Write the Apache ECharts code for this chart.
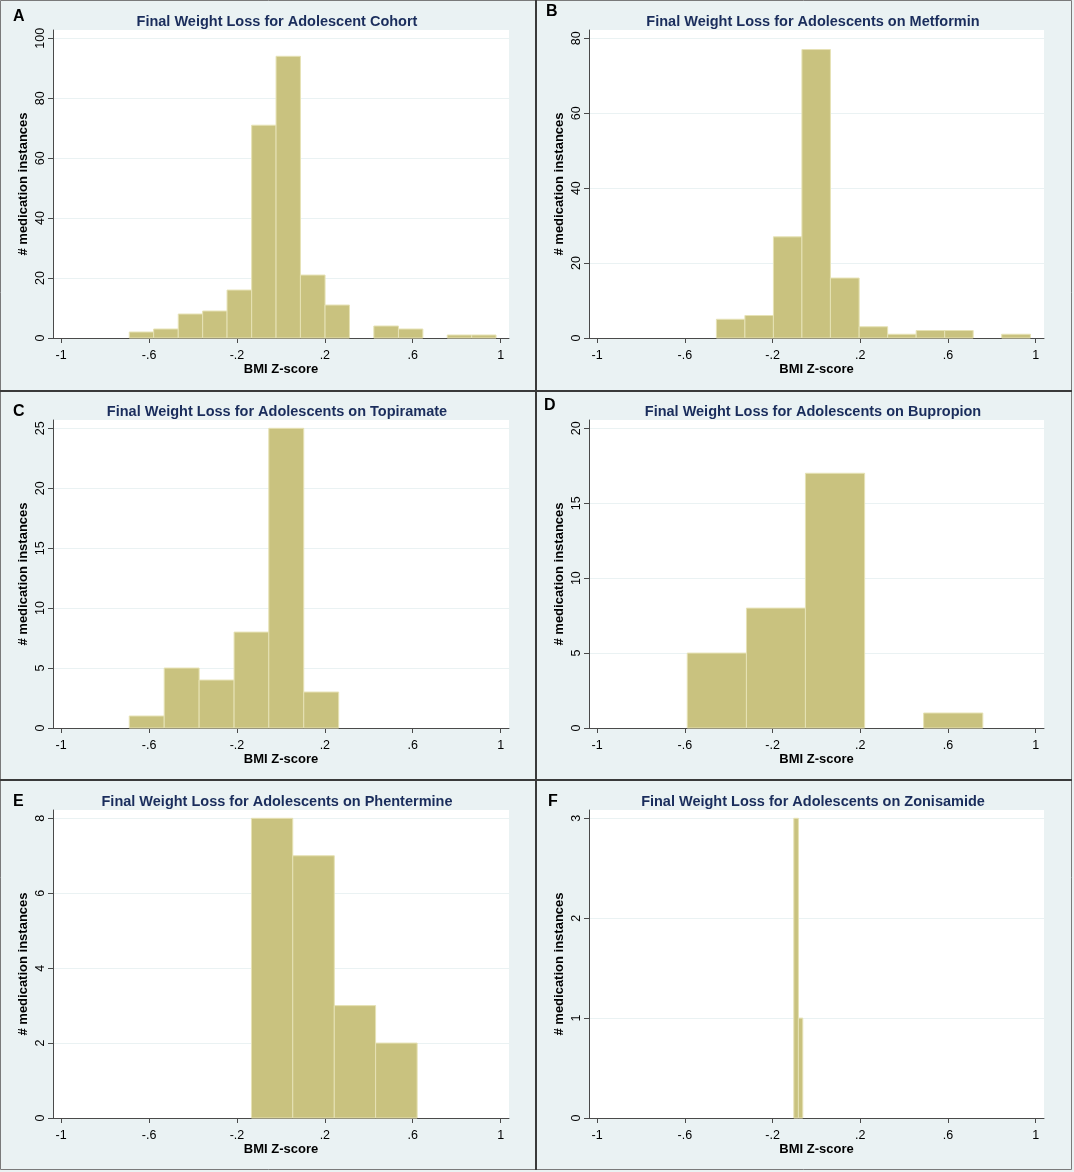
<!DOCTYPE html>
<html>
<head>
<meta charset="utf-8">
<title>Final Weight Loss histograms</title>
<script src="https://cdn.jsdelivr.net/npm/echarts@6.0.0/dist/echarts.min.js"></script>
<style>
  html, body { margin: 0; padding: 0; background: #eaf2f3; }
  #chart { width: 1074px; height: 1172px; }
</style>
</head>
<body>
<div id="chart"></div>
<script>
// tick labels shared by every x axis
var ticksX = [-1, -0.6, -0.2, 0.2, 0.6, 1];

// A - whole cohort
var edgesA = [-0.690, -0.579, -0.467, -0.356, -0.245, -0.133, -0.022, 0.089, 0.201, 0.312, 0.423, 0.535, 0.646, 0.757, 0.868, 0.979];
var countsA = [2, 3, 8, 9, 16, 71, 94, 21, 11, 0, 4, 3, 0, 1, 1];
var ticksYA = [0, 20, 40, 60, 80, 100];

// B - metformin
var edgesB = [-0.456, -0.326, -0.196, -0.066, 0.064, 0.195, 0.325, 0.455, 0.585, 0.715, 0.845, 0.976];
var countsB = [5, 6, 27, 77, 16, 3, 1, 2, 2, 0, 1];
var ticksYB = [0, 20, 40, 60, 80];

// C - topiramate
var edgesC = [-0.690, -0.531, -0.372, -0.213, -0.055, 0.104, 0.263];
var countsC = [1, 5, 4, 8, 25, 3];
var ticksYC = [0, 5, 10, 15, 20, 25];

// D - bupropion
var edgesD = [-0.589, -0.319, -0.050, 0.220, 0.489, 0.759];
var countsD = [5, 8, 17, 0, 1];
var ticksYD = [0, 5, 10, 15, 20];

// E - phentermine
var edgesE = [-0.134, 0.054, 0.243, 0.431, 0.620];
var countsE = [8, 7, 3, 2];
var ticksYE = [0, 2, 4, 6, 8];

// F - zonisamide
var edgesF = [-0.103, -0.082, -0.062];
var countsF = [3, 1];
var ticksYF = [0, 1, 2, 3];

var panelTitles = [
  'Final Weight Loss for Adolescent Cohort',
  'Final Weight Loss for Adolescents on Metformin',
  'Final Weight Loss for Adolescents on Topiramate',
  'Final Weight Loss for Adolescents on Bupropion',
  'Final Weight Loss for Adolescents on Phentermine',
  'Final Weight Loss for Adolescents on Zonisamide'
];
var panelLetters = ['A', 'B', 'C', 'D', 'E', 'F'];

var panels = [
  { edges: edgesA, counts: countsA, ticksY: ticksYA },
  { edges: edgesB, counts: countsB, ticksY: ticksYB },
  { edges: edgesC, counts: countsC, ticksY: ticksYC },
  { edges: edgesD, counts: countsD, ticksY: ticksYD },
  { edges: edgesE, counts: countsE, ticksY: ticksYE },
  { edges: edgesF, counts: countsF, ticksY: ticksYF }
];

var FONT = '"Liberation Sans", Arial, sans-serif';
var AXIS_COLOR = '#4a4a4a';
var BAR_FILL = '#c9c27f';
var BAR_EDGE = '#e6e2b5';

// layout of the 2x3 panel grid
var colLeft = [53, 589];
var colWidth = [456, 455];
var rowTop = [30, 420, 810];
var plotHeight = 308;
var titleCenter = [277, 813];
var titleTop = [14, 404, 794];
var letterPos = [[13, 9], [546, 4], [13, 404], [544, 398], [13, 794], [548, 794]];

function stataNum(v) {
  // Stata drops the leading zero: -.6, .2
  var s = String(Math.round(v * 10) / 10);
  return s.replace(/^(-?)0\./, '$1.');
}

function renderBin(params, api) {
  var n = api.value(2);
  if (!n) return null;
  var p0 = api.coord([api.value(0), 0]);
  var p1 = api.coord([api.value(1), n]);
  return {
    type: 'rect',
    shape: { x: p0[0], y: p1[1], width: p1[0] - p0[0], height: p0[1] - p1[1] },
    style: { fill: BAR_FILL, stroke: BAR_EDGE, lineWidth: 1 }
  };
}

var grids = [], xAxes = [], yAxes = [], series = [], titles = [];

panels.forEach(function (p, i) {
  var col = i % 2, row = Math.floor(i / 2);
  var topVal = p.ticksY[p.ticksY.length - 1];

  grids.push({
    left: colLeft[col], top: rowTop[row],
    width: colWidth[col], height: plotHeight,
    show: true, backgroundColor: '#ffffff', borderWidth: 0
  });

  xAxes.push({
    type: 'value', gridIndex: i,
    min: -1.037, max: 1.038,
    name: 'BMI Z-score', nameLocation: 'middle', nameGap: 25,
    nameTextStyle: { fontFamily: FONT, fontWeight: 'bold', fontSize: 13, color: '#000' },
    axisLine: { show: true, onZero: false, lineStyle: { color: AXIS_COLOR, width: 1 } },
    axisTick: { show: true, length: 5, customValues: ticksX, lineStyle: { color: AXIS_COLOR } },
    axisLabel: {
      customValues: ticksX, margin: 11,
      fontFamily: FONT, fontSize: 12.5, color: '#000',
      formatter: stataNum
    },
    splitLine: { show: false }
  });

  yAxes.push({
    type: 'value', gridIndex: i,
    min: 0, max: topVal * 1.0277,
    name: '# medication instances', nameLocation: 'middle', nameGap: 23,
    nameTextStyle: { fontFamily: FONT, fontWeight: 'bold', fontSize: 13, color: '#000' },
    axisLine: { show: true, onZero: false, lineStyle: { color: AXIS_COLOR, width: 1 } },
    axisTick: { show: true, length: 5, customValues: p.ticksY, lineStyle: { color: AXIS_COLOR } },
    axisLabel: {
      customValues: p.ticksY, rotate: 90, margin: 6,
      fontFamily: FONT, fontSize: 12.5, color: '#000'
    },
    splitLine: { show: true, lineStyle: { color: '#eaf2f3', width: 1 } }
  });

  var bins = [];
  for (var k = 0; k < p.counts.length; k++) {
    bins.push([p.edges[k], p.edges[k + 1], p.counts[k]]);
  }
  series.push({
    type: 'custom', xAxisIndex: i, yAxisIndex: i,
    renderItem: renderBin,
    encode: { x: [0, 1], y: 2 },
    data: bins,
    silent: true
  });

  titles.push({
    text: panelTitles[i], padding: 0,
    left: titleCenter[col], top: titleTop[row], textAlign: 'center',
    textStyle: { fontFamily: FONT, fontWeight: 'bold', fontSize: 14.5, color: '#1a2d5c' }
  });
  titles.push({
    text: panelLetters[i], padding: 0,
    left: letterPos[i][0], top: letterPos[i][1],
    textStyle: { fontFamily: FONT, fontWeight: 'bold', fontSize: 16, color: '#000' }
  });
});

var chart = echarts.init(document.getElementById('chart'), null, { renderer: 'canvas' });

chart.setOption({
  backgroundColor: '#eaf2f3',
  animation: false,
  title: titles,
  grid: grids,
  xAxis: xAxes,
  yAxis: yAxes,
  series: series,
  graphic: [
    { type: 'rect', silent: true, z: 100,
      shape: { x: 0.5, y: 0.5, width: 1071, height: 1169 },
      style: { fill: null, stroke: '#7a7a7a', lineWidth: 1 } },
    { type: 'line', silent: true, z: 100,
      shape: { x1: 536, y1: 0, x2: 536, y2: 1170 },
      style: { stroke: '#3a3a3a', lineWidth: 2 } },
    { type: 'line', silent: true, z: 100,
      shape: { x1: 0, y1: 391, x2: 1072, y2: 391 },
      style: { stroke: '#3a3a3a', lineWidth: 2 } },
    { type: 'line', silent: true, z: 100,
      shape: { x1: 0, y1: 780, x2: 1072, y2: 780 },
      style: { stroke: '#3a3a3a', lineWidth: 2 } }
  ]
});

window.addEventListener('resize', function () {
  chart.resize();
});
</script>
</body>
</html>
